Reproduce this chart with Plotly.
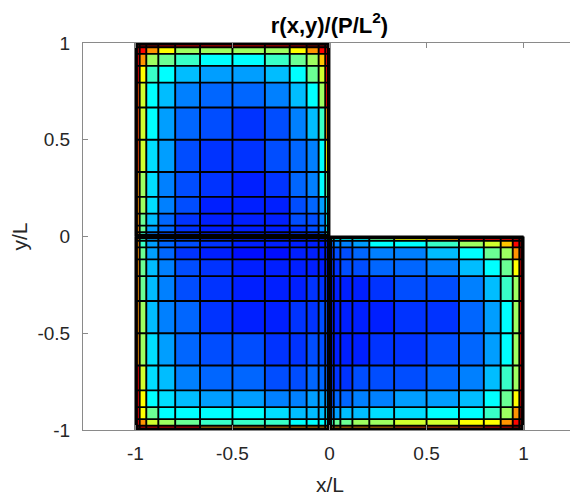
import plotly.graph_objects as go

# mesh coordinate fractions along each patch edge (same in x and y)
t = [0, 0.008, 0.022, 0.056, 0.118, 0.205, 0.333, 0.5, 0.667, 0.795, 0.882, 0.944, 0.978, 0.992, 1]

# colour level of each cell (rows top -> bottom, cols left -> right)
levels = {'0': 0.1375, '1': 0.155, '2': 0.175, '3': 0.2, '4': 0.225, '5': 0.25, '6': 0.28,
          '7': 0.31, '8': 0.3425, '9': 0.375, 'A': 0.43, 'B': 0.48, 'C': 0.53, 'D': 0.58,
          'E': 0.625, 'F': 0.68, 'G': 0.73, 'H': 0.80, 'I': 0.87, 'J': 0.93, 'K': 0.99}

# patch 1: x in [-1,0], y in [0,1]
patch1 = [
    "KKKKKKKKKKKKKK",
    "KKKKJIIIIJKKKK",
    "KJIGECCCCEGIJK",
    "KIGCBA99ABCFIK",
    "KIEA976679BDIK",
    "KHD97544579CIK",
    "JHD96432357AGJ",
    "JHD863223459EI",
    "JGC853212459BH",
    "JGC8531113469E",
    "JGB7421113359C",
    "JGB6421112359A",
    "JGA532111224A9",
    "JGA532111224A9",
]
# patch 2: x in [-1,0], y in [-1,0]
patch2 = [
    "HGA64321111111",
    "HGA64321111111",
    "HGA64321111111",
    "HGB64210011111",
    "HGB75321111111",
    "HGB75321112222",
    "HGC75421122333",
    "HGC86433223333",
    "HID87544334444",
    "IIE98766556666",
    "IIEB9999877788",
    "JIGDCBAAA99999",
    "KKIIIIGGGGGGGG",
    "KKKKKJJJJJJJJJ",
]
# patch 3: x in [0,1], y in [-1,0]
patch3 = [
    "99ACEHIJKKKKKK",
    "AA999BEGIIIJKK",
    "4455699ACDFIKK",
    "223345579BCGKK",
    "2223344579BEJK",
    "1111123357ACIK",
    "11111122469CIK",
    "11111223469CIK",
    "2222333457ACIK",
    "3344556679BEJK",
    "556778899ACGKK",
    "AABBCCDDEEGIKK",
    "GGGGGGHHHIIJKK",
    "JJJJJJJJKKKKKK",
]
patches = [(patch1, (-1, 0), (1, 0)), (patch2, (-1, 0), (0, -1)), (patch3, (0, 1), (0, -1))]

x_ticks = [-1, -0.5, 0, 0.5, 1]
x_tick_text = ["-1", "-0.5", "0", "0.5", "1"]
y_ticks = [-1, -0.5, 0, 0.5, 1]
y_tick_text = ["-1", "-0.5", "0", "0.5", "1"]

jet = [[0, "rgb(0,0,128)"], [0.125, "rgb(0,0,255)"], [0.375, "rgb(0,255,255)"],
       [0.625, "rgb(255,255,0)"], [0.875, "rgb(255,0,0)"], [1, "rgb(128,0,0)"]]

fig = go.Figure()
lx, ly = [], []
for rows, (x0, x1), (ytop, ybot) in patches:
    xe = [x0 + (x1 - x0) * tt for tt in t]
    ye_top = [ytop + (ybot - ytop) * tt for tt in t]
    z = [[levels[ch] for ch in row] for row in rows]
    fig.add_trace(go.Heatmap(x=xe, y=ye_top[::-1], z=z[::-1], colorscale=jet, zmin=0, zmax=1,
                             showscale=False, zsmooth=False, hoverinfo="skip"))
    ymin, ymax = min(ytop, ybot), max(ytop, ybot)
    for xv in xe:
        lx += [xv, xv, None]
        ly += [ymin, ymax, None]
    for yv in ye_top:
        lx += [x0, x1, None]
        ly += [yv, yv, None]

fig.add_trace(go.Scatter(x=lx, y=ly, mode="lines", line=dict(color="black", width=1.9),
                         hoverinfo="skip", showlegend=False))

# the page body adds an 8px margin, so the figure is 8px smaller and shifted
W, H = 570, 494
axis_common = dict(showgrid=False, zeroline=False, showline=True, mirror="ticks",
                   linecolor="#8a8a8a", linewidth=1, ticks="inside", ticklen=5,
                   tickcolor="#8a8a8a", tickfont=dict(size=19, color="#262626"),
                   automargin=False)
fig.update_layout(
    width=W, height=H,
    margin=dict(l=75, r=2, t=35, b=72, autoexpand=False),
    plot_bgcolor="white", paper_bgcolor="white",
    font=dict(family="Liberation Sans, Arial, sans-serif", color="#262626"),
    showlegend=False,
    title=dict(text="<b>r(x,y)/(P/L<sup>2</sup>)</b>", x=0.5, xref="paper", xanchor="center",
               y=1 - 17 / H, yref="container", yanchor="middle", automargin=False,
               font=dict(size=22, color="#000000")),
    xaxis=dict(range=[-1.27, 1.27], tickvals=x_ticks, ticktext=x_tick_text,
               ticklabelstandoff=6, **axis_common),
    yaxis=dict(range=[-1, 1], tickvals=y_ticks, ticktext=y_tick_text,
               ticklabelstandoff=8, **axis_common),
    annotations=[
        dict(text="x/L", xref="paper", yref="paper", x=0.5, y=(430 - 484) / 387,
             xanchor="center", yanchor="middle", showarrow=False,
             font=dict(size=21, color="#262626")),
        dict(text="y/L", xref="paper", yref="paper", x=(19 - 83) / 493, y=0.5,
             xanchor="center", yanchor="middle", showarrow=False, textangle=-90,
             font=dict(size=21, color="#262626")),
    ],
)
fig.write_html("out.html")
